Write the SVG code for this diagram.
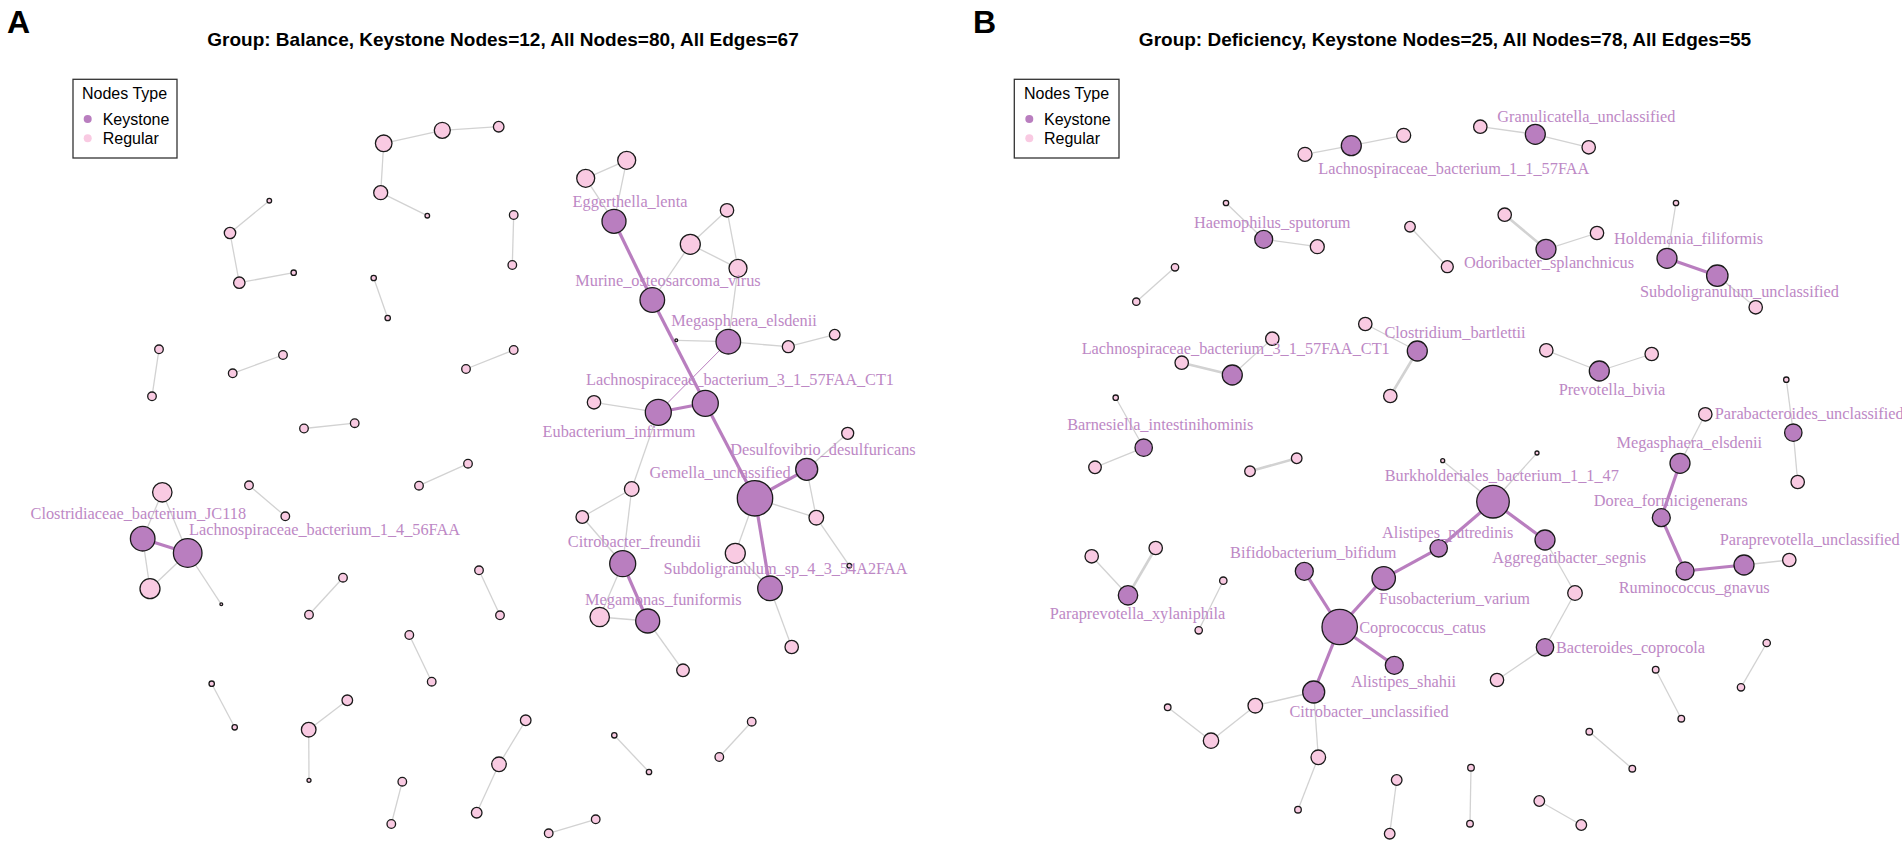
<svg xmlns="http://www.w3.org/2000/svg" width="1902" height="847" viewBox="0 0 1902 847">
<style>
.k{fill:#B97EBF;stroke:#1a1a1a;stroke-width:1.3}
.r{fill:#F9CAE2;stroke:#1a1a1a;stroke-width:1.3}
.e{stroke:#D2D2D2;stroke-width:1.3;fill:none}
.ew{stroke:#D2D2D2;stroke-width:2.6;fill:none}
.p{stroke:#B97EBF;stroke-width:3.2;fill:none}
.pt{stroke:#B97EBF;stroke-width:1;fill:none}
.lb{font-family:"Liberation Serif","Times New Roman",serif;font-size:16.3px;fill:#BD88C5;text-anchor:middle}
.ttl{font-family:"Liberation Sans",Arial,sans-serif;font-size:19px;font-weight:bold;fill:#000;text-anchor:middle}
.tag{font-family:"Liberation Sans",Arial,sans-serif;font-size:32px;font-weight:bold;fill:#000}
.lg{font-family:"Liberation Sans",Arial,sans-serif;font-size:16px;fill:#000}
.box{fill:#fff;stroke:#333;stroke-width:1.3}
</style>
<rect width="1902" height="847" fill="#fff"/>
<g id="headings">
<text class="tag" x="7" y="33">A</text>
<text class="ttl" x="503" y="46">Group: Balance, Keystone Nodes=12, All Nodes=80, All Edges=67</text>
<text class="tag" x="973" y="33">B</text>
<text class="ttl" x="1445" y="46">Group: Deficiency, Keystone Nodes=25, All Nodes=78, All Edges=55</text>
</g>
<g id="legendA">
<rect class="box" x="73" y="79.3" width="104" height="78.7"/>
<text class="lg" x="82" y="99">Nodes Type</text>
<circle cx="87.7" cy="119" r="4" fill="#B97EBF"/>
<text class="lg" x="102.7" y="125">Keystone</text>
<circle cx="87.7" cy="138.3" r="4" fill="#F9CAE2"/>
<text class="lg" x="102.7" y="144">Regular</text>
</g>
<g id="legendB">
<rect class="box" x="1014.3" y="79.3" width="104.7" height="78.7"/>
<text class="lg" x="1024" y="99">Nodes Type</text>
<circle cx="1029.3" cy="119" r="4" fill="#B97EBF"/>
<text class="lg" x="1044" y="125">Keystone</text>
<circle cx="1029.3" cy="138.3" r="4" fill="#F9CAE2"/>
<text class="lg" x="1044" y="144">Regular</text>
</g>
<g id="connectors">
<!-- Panel A -->
<line class="e" x1="383.7" y1="143.3" x2="442.3" y2="130.3"/>
<line class="e" x1="383.7" y1="143.3" x2="380.7" y2="192.7"/>
<line class="e" x1="380.7" y1="192.7" x2="427.3" y2="215.7"/>
<line class="e" x1="442.3" y1="130.3" x2="498.7" y2="126.7"/>
<line class="e" x1="269.3" y1="200.7" x2="230" y2="233"/>
<line class="e" x1="230" y1="233" x2="239.3" y2="282.7"/>
<line class="e" x1="239.3" y1="282.7" x2="293.7" y2="272.7"/>
<line class="e" x1="373.7" y1="278" x2="387.7" y2="318"/>
<line class="e" x1="159" y1="349.3" x2="152" y2="396.3"/>
<line class="e" x1="232.7" y1="373.3" x2="283" y2="355"/>
<line class="e" x1="466" y1="369" x2="513.7" y2="350"/>
<line class="e" x1="304" y1="428.5" x2="354.7" y2="423.2"/>
<line class="e" x1="626.7" y1="160.3" x2="585.7" y2="178.3"/>
<line class="e" x1="626.7" y1="160.3" x2="614" y2="221.3"/>
<line class="e" x1="585.7" y1="178.3" x2="614" y2="221.3"/>
<line class="e" x1="513.7" y1="215" x2="512.3" y2="265"/>
<line class="e" x1="727" y1="210.3" x2="690.3" y2="244.3"/>
<line class="e" x1="727" y1="210.3" x2="738" y2="268.3"/>
<line class="e" x1="690.3" y1="244.3" x2="738" y2="268.3"/>
<line class="e" x1="690.3" y1="244.3" x2="652.3" y2="300"/>
<line class="e" x1="738" y1="268.3" x2="728.3" y2="341.7"/>
<line class="p" x1="614" y1="221.3" x2="652.3" y2="300"/>
<line class="p" x1="652.3" y1="300" x2="705.3" y2="403.3"/>
<line class="p" x1="705.3" y1="403.3" x2="755" y2="498.3"/>
<line class="e" x1="676.3" y1="340.3" x2="728.3" y2="341.7"/>
<line class="e" x1="728.3" y1="341.7" x2="788.3" y2="346.7"/>
<line class="e" x1="788.3" y1="346.7" x2="834.7" y2="334.7"/>
<line class="pt" x1="728.3" y1="341.7" x2="658.3" y2="412.3"/>
<line class="p" x1="658.3" y1="412.3" x2="705.3" y2="403.3"/>
<line class="e" x1="594" y1="402.3" x2="658.3" y2="412.3"/>
<line class="e" x1="847.7" y1="433.3" x2="806.7" y2="469.3"/>
<line class="p" x1="755" y1="498.3" x2="806.7" y2="469.3"/>
<line class="e" x1="755" y1="498.3" x2="816.3" y2="517.7"/>
<line class="e" x1="806.7" y1="469.3" x2="816.3" y2="517.7"/>
<line class="e" x1="816.3" y1="517.7" x2="849.3" y2="565.7"/>
<line class="e" x1="755" y1="498.3" x2="735.3" y2="553.3"/>
<line class="e" x1="735.3" y1="553.3" x2="770" y2="588.3"/>
<line class="p" x1="755" y1="498.3" x2="770" y2="588.3"/>
<line class="e" x1="770" y1="588.3" x2="791.7" y2="647"/>
<line class="e" x1="658.3" y1="412.3" x2="631.7" y2="489"/>
<line class="e" x1="631.7" y1="489" x2="582.3" y2="517"/>
<line class="e" x1="631.7" y1="489" x2="622.7" y2="563.7"/>
<line class="e" x1="582.3" y1="517" x2="622.7" y2="563.7"/>
<line class="p" x1="622.7" y1="563.7" x2="647.7" y2="621"/>
<line class="e" x1="622.7" y1="563.7" x2="599.7" y2="617"/>
<line class="e" x1="599.7" y1="617" x2="647.7" y2="621"/>
<line class="e" x1="647.7" y1="621" x2="683" y2="670.3"/>
<line class="e" x1="479" y1="570.3" x2="500" y2="615.3"/>
<line class="e" x1="468" y1="463.7" x2="419" y2="485.7"/>
<line class="e" x1="525.7" y1="720.3" x2="499" y2="764.3"/>
<line class="e" x1="499" y1="764.3" x2="476.7" y2="812.7"/>
<line class="e" x1="614.3" y1="735.3" x2="649" y2="772"/>
<line class="e" x1="751.7" y1="721.7" x2="719.3" y2="757"/>
<line class="e" x1="595.7" y1="819.3" x2="548.7" y2="833.3"/>
<line class="e" x1="162.3" y1="492.3" x2="142.7" y2="538.7"/>
<line class="e" x1="162.3" y1="492.3" x2="187.7" y2="553"/>
<line class="p" x1="142.7" y1="538.7" x2="187.7" y2="553"/>
<line class="e" x1="142.7" y1="538.7" x2="150" y2="588.7"/>
<line class="e" x1="187.7" y1="553" x2="150" y2="588.7"/>
<line class="e" x1="187.7" y1="553" x2="221.3" y2="604.3"/>
<line class="e" x1="249" y1="485.3" x2="285.3" y2="516.3"/>
<line class="e" x1="343" y1="577.7" x2="309" y2="614.7"/>
<line class="e" x1="409.3" y1="635" x2="431.7" y2="681.7"/>
<line class="e" x1="211.7" y1="683.7" x2="234.7" y2="727.3"/>
<line class="e" x1="347.3" y1="700.3" x2="308.7" y2="729.7"/>
<line class="e" x1="308.7" y1="729.7" x2="309" y2="780.3"/>
<line class="e" x1="402.3" y1="781.7" x2="391.3" y2="824"/>
<!-- Panel B -->
<line class="e" x1="1305" y1="154.3" x2="1351.3" y2="145.7"/>
<line class="e" x1="1351.3" y1="145.7" x2="1403.7" y2="135.3"/>
<line class="e" x1="1226" y1="203" x2="1263.7" y2="239.3"/>
<line class="e" x1="1263.7" y1="239.3" x2="1317.3" y2="246.7"/>
<line class="e" x1="1175" y1="267.3" x2="1136.3" y2="301.7"/>
<line class="ew" x1="1181.7" y1="362.7" x2="1232.3" y2="375"/>
<line class="e" x1="1272.3" y1="338.7" x2="1232.3" y2="375"/>
<line class="e" x1="1365.3" y1="324" x2="1417.3" y2="351"/>
<line class="ew" x1="1417.3" y1="351" x2="1390.3" y2="396"/>
<line class="e" x1="1115.7" y1="397.7" x2="1143.7" y2="447.7"/>
<line class="e" x1="1143.7" y1="447.7" x2="1095" y2="467.3"/>
<line class="e" x1="1480.3" y1="126.7" x2="1535.3" y2="134.3"/>
<line class="e" x1="1535.3" y1="134.3" x2="1588.7" y2="147.3"/>
<line class="ew" x1="1504.7" y1="214.7" x2="1546" y2="249.3"/>
<line class="e" x1="1546" y1="249.3" x2="1597" y2="233"/>
<line class="e" x1="1410" y1="226.7" x2="1447.3" y2="266.7"/>
<line class="e" x1="1676" y1="203" x2="1667" y2="258.3"/>
<line class="p" x1="1667" y1="258.3" x2="1717.3" y2="275.7"/>
<line class="e" x1="1717.3" y1="275.7" x2="1755.7" y2="307.3"/>
<line class="e" x1="1546.3" y1="350.3" x2="1599.3" y2="371"/>
<line class="e" x1="1599.3" y1="371" x2="1651.7" y2="354"/>
<line class="e" x1="1786.3" y1="379.7" x2="1793.3" y2="432.7"/>
<line class="e" x1="1793.3" y1="432.7" x2="1797.7" y2="482"/>
<line class="e" x1="1705.3" y1="414.3" x2="1680" y2="463.3"/>
<line class="p" x1="1680" y1="463.3" x2="1661.3" y2="517.7"/>
<line class="p" x1="1661.3" y1="517.7" x2="1685" y2="571"/>
<line class="p" x1="1685" y1="571" x2="1744" y2="565"/>
<line class="e" x1="1744" y1="565" x2="1789.3" y2="560"/>
<line class="e" x1="1442.7" y1="460.7" x2="1493" y2="501.7"/>
<line class="e" x1="1537" y1="453" x2="1493" y2="501.7"/>
<line class="p" x1="1493" y1="501.7" x2="1438.7" y2="548.3"/>
<line class="p" x1="1493" y1="501.7" x2="1545" y2="540"/>
<line class="e" x1="1545" y1="540" x2="1575" y2="593"/>
<line class="e" x1="1575" y1="593" x2="1545" y2="647.3"/>
<line class="e" x1="1545" y1="647.3" x2="1497" y2="680"/>
<line class="e" x1="1655.7" y1="669.7" x2="1681.3" y2="718.7"/>
<line class="e" x1="1766.7" y1="643" x2="1741" y2="687.3"/>
<line class="e" x1="1589.3" y1="731.7" x2="1632.3" y2="768.7"/>
<line class="e" x1="1471" y1="767.7" x2="1470" y2="823.7"/>
<line class="e" x1="1539.3" y1="801" x2="1581.3" y2="825"/>
<line class="ew" x1="1250" y1="471.3" x2="1296.7" y2="458.3"/>
<line class="e" x1="1091.7" y1="556.3" x2="1128" y2="595.3"/>
<line class="ew" x1="1128" y1="595.3" x2="1155.7" y2="548"/>
<line class="e" x1="1223.3" y1="580.7" x2="1198.7" y2="630.3"/>
<line class="p" x1="1304.3" y1="571.3" x2="1339.7" y2="627"/>
<line class="p" x1="1339.7" y1="627" x2="1383.7" y2="578.3"/>
<line class="p" x1="1383.7" y1="578.3" x2="1438.7" y2="548.3"/>
<line class="p" x1="1339.7" y1="627" x2="1394.3" y2="665.3"/>
<line class="p" x1="1339.7" y1="627" x2="1313.7" y2="692"/>
<line class="e" x1="1313.7" y1="692" x2="1255.3" y2="705.7"/>
<line class="e" x1="1255.3" y1="705.7" x2="1211" y2="740.7"/>
<line class="e" x1="1211" y1="740.7" x2="1167.7" y2="707.3"/>
<line class="e" x1="1313.7" y1="692" x2="1318.3" y2="757.3"/>
<line class="e" x1="1318.3" y1="757.3" x2="1298" y2="809.7"/>
<line class="e" x1="1396.7" y1="780" x2="1389.7" y2="833.7"/>
</g>
<g id="regular-nodes">
<g id="a1"><circle class="r" cx="383.7" cy="143.3" r="8.3"/></g>
<g id="a2"><circle class="r" cx="442.3" cy="130.3" r="8"/></g>
<g id="a3"><circle class="r" cx="380.7" cy="192.7" r="7"/></g>
<g id="a4"><circle class="r" cx="427.3" cy="215.7" r="2.3"/></g>
<g id="a5"><circle class="r" cx="498.7" cy="126.7" r="5.3"/></g>
<g id="a6"><circle class="r" cx="269.3" cy="200.7" r="2.3"/></g>
<g id="a7"><circle class="r" cx="230" cy="233" r="5.7"/></g>
<g id="a8"><circle class="r" cx="239.3" cy="282.7" r="5.7"/></g>
<g id="a9"><circle class="r" cx="293.7" cy="272.7" r="2.7"/></g>
<g id="a10"><circle class="r" cx="373.7" cy="278" r="2.7"/></g>
<g id="a11"><circle class="r" cx="387.7" cy="318" r="2.7"/></g>
<g id="a12"><circle class="r" cx="159" cy="349.3" r="4.3"/></g>
<g id="a13"><circle class="r" cx="152" cy="396.3" r="4.3"/></g>
<g id="a14"><circle class="r" cx="232.7" cy="373.3" r="4.3"/></g>
<g id="a15"><circle class="r" cx="283" cy="355" r="4.3"/></g>
<g id="a16"><circle class="r" cx="466" cy="369" r="4.3"/></g>
<g id="a17"><circle class="r" cx="513.7" cy="350" r="4.3"/></g>
<g id="a18"><circle class="r" cx="304" cy="428.5" r="4.3"/></g>
<g id="a19"><circle class="r" cx="354.7" cy="423.2" r="4.3"/></g>
<g id="a20"><circle class="r" cx="626.7" cy="160.3" r="9"/></g>
<g id="a21"><circle class="r" cx="585.7" cy="178.3" r="9"/></g>
<g id="a22"><circle class="r" cx="513.7" cy="215" r="4.3"/></g>
<g id="a23"><circle class="r" cx="512.3" cy="265" r="4.3"/></g>
<g id="a24"><circle class="r" cx="727" cy="210.3" r="6.7"/></g>
<g id="a25"><circle class="r" cx="690.3" cy="244.3" r="10"/></g>
<g id="a26"><circle class="r" cx="738" cy="268.3" r="9"/></g>
<g id="a27"><circle class="r" cx="676.3" cy="340.3" r="1.4"/></g>
<g id="a28"><circle class="r" cx="788.3" cy="346.7" r="6"/></g>
<g id="a29"><circle class="r" cx="834.7" cy="334.7" r="5.3"/></g>
<g id="a30"><circle class="r" cx="594" cy="402.3" r="6.7"/></g>
<g id="a31"><circle class="r" cx="847.7" cy="433.3" r="6"/></g>
<g id="a32"><circle class="r" cx="816.3" cy="517.7" r="7.3"/></g>
<g id="a33"><circle class="r" cx="849.3" cy="565.7" r="2.3"/></g>
<g id="a34"><circle class="r" cx="735.3" cy="553.3" r="10"/></g>
<g id="a35"><circle class="r" cx="791.7" cy="647" r="6.7"/></g>
<g id="a36"><circle class="r" cx="631.7" cy="489" r="7.3"/></g>
<g id="a37"><circle class="r" cx="582.3" cy="517" r="6.3"/></g>
<g id="a38"><circle class="r" cx="599.7" cy="617" r="9.7"/></g>
<g id="a39"><circle class="r" cx="683" cy="670.3" r="6.3"/></g>
<g id="a40"><circle class="r" cx="479" cy="570.3" r="4.3"/></g>
<g id="a41"><circle class="r" cx="500" cy="615.3" r="4.3"/></g>
<g id="a42"><circle class="r" cx="468" cy="463.7" r="4.3"/></g>
<g id="a43"><circle class="r" cx="419" cy="485.7" r="4.3"/></g>
<g id="a44"><circle class="r" cx="525.7" cy="720.3" r="5.3"/></g>
<g id="a45"><circle class="r" cx="499" cy="764.3" r="7.3"/></g>
<g id="a46"><circle class="r" cx="476.7" cy="812.7" r="5.3"/></g>
<g id="a47"><circle class="r" cx="614.3" cy="735.3" r="2.7"/></g>
<g id="a48"><circle class="r" cx="649" cy="772" r="2.7"/></g>
<g id="a49"><circle class="r" cx="751.7" cy="721.7" r="4.3"/></g>
<g id="a50"><circle class="r" cx="719.3" cy="757" r="4.3"/></g>
<g id="a51"><circle class="r" cx="595.7" cy="819.3" r="4.3"/></g>
<g id="a52"><circle class="r" cx="548.7" cy="833.3" r="4.3"/></g>
<g id="a53"><circle class="r" cx="162.3" cy="492.3" r="9.7"/></g>
<g id="a54"><circle class="r" cx="150" cy="588.7" r="10"/></g>
<g id="a55"><circle class="r" cx="221.3" cy="604.3" r="1.4"/></g>
<g id="a56"><circle class="r" cx="249" cy="485.3" r="4.3"/></g>
<g id="a57"><circle class="r" cx="285.3" cy="516.3" r="4.3"/></g>
<g id="a58"><circle class="r" cx="343" cy="577.7" r="4.3"/></g>
<g id="a59"><circle class="r" cx="309" cy="614.7" r="4.3"/></g>
<g id="a60"><circle class="r" cx="409.3" cy="635" r="4.3"/></g>
<g id="a61"><circle class="r" cx="431.7" cy="681.7" r="4.3"/></g>
<g id="a62"><circle class="r" cx="211.7" cy="683.7" r="2.7"/></g>
<g id="a63"><circle class="r" cx="234.7" cy="727.3" r="2.7"/></g>
<g id="a64"><circle class="r" cx="347.3" cy="700.3" r="5.3"/></g>
<g id="a65"><circle class="r" cx="308.7" cy="729.7" r="7.3"/></g>
<g id="a66"><circle class="r" cx="309" cy="780.3" r="2"/></g>
<g id="a67"><circle class="r" cx="402.3" cy="781.7" r="4.3"/></g>
<g id="a68"><circle class="r" cx="391.3" cy="824" r="4.3"/></g>
<g id="b1"><circle class="r" cx="1305" cy="154.3" r="7"/></g>
<g id="b2"><circle class="r" cx="1403.7" cy="135.3" r="7"/></g>
<g id="b3"><circle class="r" cx="1226" cy="203" r="2.7"/></g>
<g id="b4"><circle class="r" cx="1317.3" cy="246.7" r="7"/></g>
<g id="b5"><circle class="r" cx="1175" cy="267.3" r="3.7"/></g>
<g id="b6"><circle class="r" cx="1136.3" cy="301.7" r="3.7"/></g>
<g id="b7"><circle class="r" cx="1181.7" cy="362.7" r="6.7"/></g>
<g id="b8"><circle class="r" cx="1272.3" cy="338.7" r="6.7"/></g>
<g id="b9"><circle class="r" cx="1365.3" cy="324" r="6.7"/></g>
<g id="b10"><circle class="r" cx="1390.3" cy="396" r="6.7"/></g>
<g id="b11"><circle class="r" cx="1115.7" cy="397.7" r="2.7"/></g>
<g id="b12"><circle class="r" cx="1480.3" cy="126.7" r="6.7"/></g>
<g id="b13"><circle class="r" cx="1588.7" cy="147.3" r="6.7"/></g>
<g id="b14"><circle class="r" cx="1504.7" cy="214.7" r="6.7"/></g>
<g id="b15"><circle class="r" cx="1597" cy="233" r="6.7"/></g>
<g id="b16"><circle class="r" cx="1410" cy="226.7" r="5.3"/></g>
<g id="b17"><circle class="r" cx="1447.3" cy="266.7" r="6"/></g>
<g id="b18"><circle class="r" cx="1676" cy="203" r="2.7"/></g>
<g id="b19"><circle class="r" cx="1755.7" cy="307.3" r="6.7"/></g>
<g id="b20"><circle class="r" cx="1546.3" cy="350.3" r="6.7"/></g>
<g id="b21"><circle class="r" cx="1651.7" cy="354" r="6.7"/></g>
<g id="b22"><circle class="r" cx="1786.3" cy="379.7" r="2.7"/></g>
<g id="b23"><circle class="r" cx="1797.7" cy="482" r="6.7"/></g>
<g id="b24"><circle class="r" cx="1705.3" cy="414.3" r="6.7"/></g>
<g id="b25"><circle class="r" cx="1789.3" cy="560" r="6.7"/></g>
<g id="b26"><circle class="r" cx="1442.7" cy="460.7" r="2"/></g>
<g id="b27"><circle class="r" cx="1537" cy="453" r="2"/></g>
<g id="b28"><circle class="r" cx="1575" cy="593" r="7.3"/></g>
<g id="b29"><circle class="r" cx="1497" cy="680" r="6.7"/></g>
<g id="b30"><circle class="r" cx="1655.7" cy="669.7" r="3.3"/></g>
<g id="b31"><circle class="r" cx="1681.3" cy="718.7" r="3.3"/></g>
<g id="b32"><circle class="r" cx="1766.7" cy="643" r="3.7"/></g>
<g id="b33"><circle class="r" cx="1741" cy="687.3" r="3.7"/></g>
<g id="b34"><circle class="r" cx="1589.3" cy="731.7" r="3.3"/></g>
<g id="b35"><circle class="r" cx="1632.3" cy="768.7" r="3.3"/></g>
<g id="b36"><circle class="r" cx="1471" cy="767.7" r="3.3"/></g>
<g id="b37"><circle class="r" cx="1470" cy="823.7" r="3.3"/></g>
<g id="b38"><circle class="r" cx="1539.3" cy="801" r="5.3"/></g>
<g id="b39"><circle class="r" cx="1581.3" cy="825" r="5.3"/></g>
<g id="b40"><circle class="r" cx="1095" cy="467.3" r="6.3"/></g>
<g id="b41"><circle class="r" cx="1250" cy="471.3" r="5.3"/></g>
<g id="b42"><circle class="r" cx="1296.7" cy="458.3" r="5.3"/></g>
<g id="b43"><circle class="r" cx="1091.7" cy="556.3" r="6.7"/></g>
<g id="b44"><circle class="r" cx="1155.7" cy="548" r="6.7"/></g>
<g id="b45"><circle class="r" cx="1223.3" cy="580.7" r="3.7"/></g>
<g id="b46"><circle class="r" cx="1198.7" cy="630.3" r="3.7"/></g>
<g id="b47"><circle class="r" cx="1255.3" cy="705.7" r="7.3"/></g>
<g id="b48"><circle class="r" cx="1211" cy="740.7" r="7.7"/></g>
<g id="b49"><circle class="r" cx="1167.7" cy="707.3" r="3.3"/></g>
<g id="b50"><circle class="r" cx="1318.3" cy="757.3" r="7.3"/></g>
<g id="b51"><circle class="r" cx="1298" cy="809.7" r="3.3"/></g>
<g id="b52"><circle class="r" cx="1396.7" cy="780" r="5.3"/></g>
<g id="b53"><circle class="r" cx="1389.7" cy="833.7" r="5.3"/></g>
</g>
<g id="keystone-nodes">
<g id="Eggerthella_lenta"><circle class="k" cx="614" cy="221.3" r="12"/><text class="lb" x="630" y="206.7">Eggerthella_lenta</text></g>
<g id="Murine_osteosarcoma_virus"><circle class="k" cx="652.3" cy="300" r="12.3"/><text class="lb" x="668" y="286">Murine_osteosarcoma_virus</text></g>
<g id="Megasphaera_elsdenii_A"><circle class="k" cx="728.3" cy="341.7" r="12.3"/><text class="lb" x="744" y="326">Megasphaera_elsdenii</text></g>
<g id="Lachnospiraceae_3_1_57FAA_CT1_A"><circle class="k" cx="705.3" cy="403.3" r="13"/><text class="lb" x="740" y="385">Lachnospiraceae_bacterium_3_1_57FAA_CT1</text></g>
<g id="Eubacterium_infirmum"><circle class="k" cx="658.3" cy="412.3" r="13"/><text class="lb" x="619" y="436.7">Eubacterium_infirmum</text></g>
<g id="Desulfovibrio_desulfuricans"><circle class="k" cx="806.7" cy="469.3" r="11"/><text class="lb" x="823" y="455">Desulfovibrio_desulfuricans</text></g>
<g id="Gemella_unclassified"><circle class="k" cx="755" cy="498.3" r="17.7"/><text class="lb" x="720" y="478.3">Gemella_unclassified</text></g>
<g id="Subdoligranulum_sp_4_3_54A2FAA"><circle class="k" cx="770" cy="588.3" r="12.3"/><text class="lb" x="785.5" y="574">Subdoligranulum_sp_4_3_54A2FAA</text></g>
<g id="Citrobacter_freundii"><circle class="k" cx="622.7" cy="563.7" r="13"/><text class="lb" x="634.3" y="546.7">Citrobacter_freundii</text></g>
<g id="Megamonas_funiformis"><circle class="k" cx="647.7" cy="621" r="12"/><text class="lb" x="663.3" y="605">Megamonas_funiformis</text></g>
<g id="Clostridiaceae_bacterium_JC118"><circle class="k" cx="142.7" cy="538.7" r="12.3"/><text class="lb" x="138.3" y="518.7">Clostridiaceae_bacterium_JC118</text></g>
<g id="Lachnospiraceae_1_4_56FAA"><circle class="k" cx="187.7" cy="553" r="14.3"/><text class="lb" x="324.5" y="535">Lachnospiraceae_bacterium_1_4_56FAA</text></g>

<g id="Lachnospiraceae_1_1_57FAA"><circle class="k" cx="1351.3" cy="145.7" r="10"/><text class="lb" x="1453.8" y="174">Lachnospiraceae_bacterium_1_1_57FAA</text></g>
<g id="Granulicatella_unclassified"><circle class="k" cx="1535.3" cy="134.3" r="10"/><text class="lb" x="1586.3" y="121.7">Granulicatella_unclassified</text></g>
<g id="Haemophilus_sputorum"><circle class="k" cx="1263.7" cy="239.3" r="9"/><text class="lb" x="1272.3" y="227.7">Haemophilus_sputorum</text></g>
<g id="Odoribacter_splanchnicus"><circle class="k" cx="1546" cy="249.3" r="10"/><text class="lb" x="1549" y="268.3">Odoribacter_splanchnicus</text></g>
<g id="Holdemania_filiformis"><circle class="k" cx="1667" cy="258.3" r="10"/><text class="lb" x="1688.5" y="244.3">Holdemania_filiformis</text></g>
<g id="Subdoligranulum_unclassified"><circle class="k" cx="1717.3" cy="275.7" r="10.7"/><text class="lb" x="1739.5" y="296.7">Subdoligranulum_unclassified</text></g>
<g id="Lachnospiraceae_3_1_57FAA_CT1_B"><circle class="k" cx="1232.3" cy="375" r="10"/><text class="lb" x="1235.7" y="354">Lachnospiraceae_bacterium_3_1_57FAA_CT1</text></g>
<g id="Clostridium_bartlettii"><circle class="k" cx="1417.3" cy="351" r="10"/><text class="lb" x="1455" y="338.3">Clostridium_bartlettii</text></g>
<g id="Prevotella_bivia"><circle class="k" cx="1599.3" cy="371" r="10"/><text class="lb" x="1612" y="395">Prevotella_bivia</text></g>
<g id="Parabacteroides_unclassified"><circle class="k" cx="1793.3" cy="432.7" r="8.7"/><text class="lb" x="1714.7" y="419.3" style="text-anchor:start">Parabacteroides_unclassified</text></g>
<g id="Megasphaera_elsdenii_B"><circle class="k" cx="1680" cy="463.3" r="10"/><text class="lb" x="1689.3" y="448.3">Megasphaera_elsdenii</text></g>
<g id="Dorea_formicigenerans"><circle class="k" cx="1661.3" cy="517.7" r="9"/><text class="lb" x="1670.7" y="505.7">Dorea_formicigenerans</text></g>
<g id="Ruminococcus_gnavus"><circle class="k" cx="1685" cy="571" r="9"/><text class="lb" x="1694.2" y="592.7">Ruminococcus_gnavus</text></g>
<g id="Paraprevotella_unclassified"><circle class="k" cx="1744" cy="565" r="10"/><text class="lb" x="1719.7" y="545" style="text-anchor:start">Paraprevotella_unclassified</text></g>
<g id="Barnesiella_intestinihominis"><circle class="k" cx="1143.7" cy="447.7" r="8.7"/><text class="lb" x="1160.3" y="430">Barnesiella_intestinihominis</text></g>
<g id="Burkholderiales_bacterium_1_1_47"><circle class="k" cx="1493" cy="501.7" r="16.3"/><text class="lb" x="1501.8" y="481">Burkholderiales_bacterium_1_1_47</text></g>
<g id="Alistipes_putredinis"><circle class="k" cx="1438.7" cy="548.3" r="8.7"/><text class="lb" x="1447.7" y="538.3">Alistipes_putredinis</text></g>
<g id="Aggregatibacter_segnis"><circle class="k" cx="1545" cy="540" r="10"/><text class="lb" x="1569.2" y="563.3">Aggregatibacter_segnis</text></g>
<g id="Bacteroides_coprocola"><circle class="k" cx="1545" cy="647.3" r="8.7"/><text class="lb" x="1630.5" y="653.3">Bacteroides_coprocola</text></g>
<g id="Paraprevotella_xylaniphila"><circle class="k" cx="1128" cy="595.3" r="9.7"/><text class="lb" x="1137.5" y="619.3">Paraprevotella_xylaniphila</text></g>
<g id="Bifidobacterium_bifidum"><circle class="k" cx="1304.3" cy="571.3" r="9"/><text class="lb" x="1313.3" y="558.3">Bifidobacterium_bifidum</text></g>
<g id="Coprococcus_catus"><circle class="k" cx="1339.7" cy="627" r="17.7"/><text class="lb" x="1422.5" y="633.3">Coprococcus_catus</text></g>
<g id="Fusobacterium_varium"><circle class="k" cx="1383.7" cy="578.3" r="11.7"/><text class="lb" x="1454.5" y="604.3">Fusobacterium_varium</text></g>
<g id="Alistipes_shahii"><circle class="k" cx="1394.3" cy="665.3" r="9"/><text class="lb" x="1403.5" y="686.5">Alistipes_shahii</text></g>
<g id="Citrobacter_unclassified"><circle class="k" cx="1313.7" cy="692" r="11"/><text class="lb" x="1369" y="716.7">Citrobacter_unclassified</text></g>
</g>
</svg>
